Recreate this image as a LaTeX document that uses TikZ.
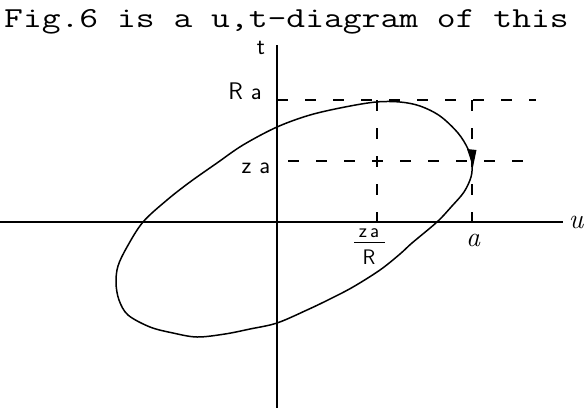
\documentclass[tikz,border=0pt]{standalone}
\usepackage{graphicx}
\usetikzlibrary{arrows.meta}
\tikzset{
  axis/.style={line width=1.2pt, black},
  curve/.style={line width=1.5pt, black},
  guide/.style={line width=1.1pt, black, dash pattern=on 11pt off 17pt},
  hand/.style={font=\fontsize{24}{26}\selectfont\sffamily, inner sep=0pt},
  cursive/.style={font=\fontsize{28}{30}\selectfont\itshape, inner sep=0pt},
  fig/.style={font=\fontsize{29}{31}\selectfont\ttfamily, inner sep=0pt}
}
\begin{document}
\begin{tikzpicture}[x=1pt, y=-1pt]
\useasboundingbox (0,0) rectangle (584,408);
% caption line
\node[fig, anchor=base west] (cap) at (4,27) {\scalebox{1.26}[1]{Fig.6 is a u,t-diagram of this}};
% axes
\coordinate (ttop) at (277,45);
\coordinate (tbot) at (277,408);
\coordinate (uleft) at (0,222);
\coordinate (uright) at (563,222);
\draw[axis] (ttop) -- (tbot);
\draw[axis] (uleft) -- (uright);
\node[hand] (tlab) at (261,48) {t};
\node[cursive] (ulab) at (576,222) {u};
% dashed guides
\coordinate (ra0) at (277,100);
\coordinate (ra1) at (536,100);
\coordinate (za0) at (288,161);
\coordinate (za1) at (537,161);
\coordinate (m0) at (377,100);
\coordinate (m1) at (377,221);
\coordinate (a0) at (472,100);
\coordinate (a1) at (472,221);
\draw[guide] (ra0) -- (ra1);
\draw[guide] (za0) -- (za1);
\draw[guide] (m0) -- (m1);
\draw[guide] (a0) -- (a1);
% ellipse-like curve
\draw[curve] plot[smooth cycle, tension=0.55] coordinates {
 (277,127) (310,115) (345,107) (376,102) (400,102) (420,106) (440,116)
 (458,133) (468,149) (472,163) (471,177) (464,192) (452,206) (437,222)
 (412,243) (400,254) (380,270) (353,287) (330,299) (307,310) (277,323)
 (250,329) (225,334) (197,337) (173,333) (150,327) (128,315) (119,300)
 (116,283) (118,266) (127,247) (143,222) (167,200) (190,182) (217,163)
 (243,145)};
% arrowhead on the right side
\coordinate (ah1) at (467,149);
\coordinate (ah2) at (476.5,150);
\coordinate (ah3) at (473,167);
\fill[black] (ah1) -- (ah2) -- (ah3) -- cycle;
% labels
\node[hand] (ra) at (245,91) {R\hspace{8pt}a};
\node[hand] (za) at (256,168) {z\hspace{8pt}a};
\node[cursive] (alab) at (473,240) {a};
\node[hand, font=\fontsize{20}{22}\selectfont\sffamily] (num) at (369,233) {z\hspace{3pt}a};
\coordinate (b0) at (354,242);
\coordinate (b1) at (385,242);
\draw[line width=1pt] (b0) -- (b1);
\node[hand, font=\fontsize{21}{23}\selectfont\sffamily] (den) at (369,257) {R};
\end{tikzpicture}
\end{document}
